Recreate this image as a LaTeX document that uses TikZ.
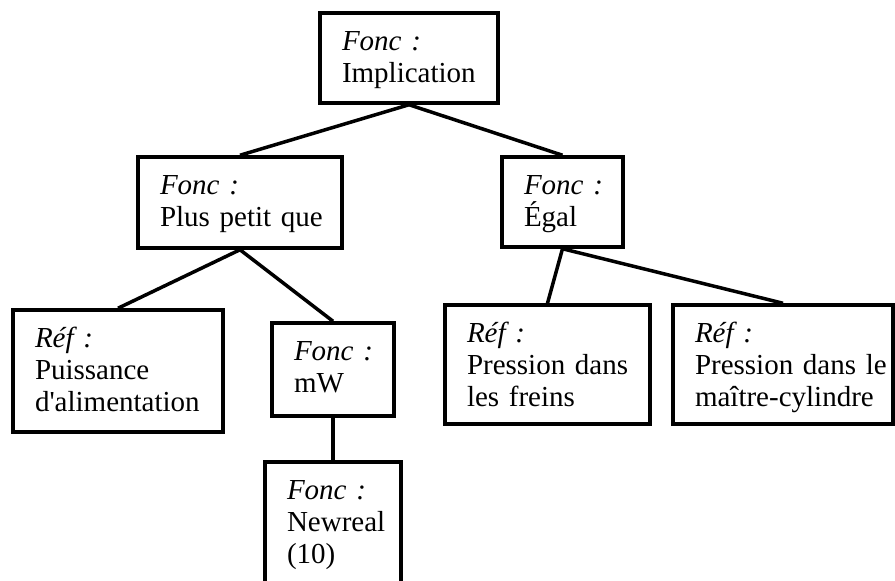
\documentclass[tikz,border=0pt]{standalone}
\usepackage{fontspec}
\setmainfont{Liberation Serif}[Ligatures=TeXOff]
\hyphenpenalty=10000
\exhyphenpenalty=10000
\hfuzz=20pt
\tikzset{
    font=\fontsize{14.5pt}{16pt}\selectfont,
    every node/.style={
        align=left,
        fill=white,
    },
    box/.style={            % default style for all boxes
        draw,
        line width=1.75pt,
        inner xsep=11pt,    % space left of the text
        inner ysep=0pt,
        text height=19pt,   % top line to first baseline
    },
    every edge/.style={     % default style for all edges
        draw,
        line width=1.75pt
    }
}

\begin{document}
\begin{tikzpicture}[x=0.5pt, y=-0.5pt]
    \useasboundingbox (0,0) rectangle (895,581);
    \clip (0,0) rectangle (895,581);
    \node[box, text width=67pt, text depth=26pt] (b0) at (409,58) {\textit{Fonc~:}\\Implication};
    \node[box, text width=80pt, text depth=26.5pt] (b1) at (240,202.5) {\textit{Fonc~:}\\Plus~petit~que};
    \node[box, text width=38.5pt, text depth=26pt] (b2) at (562.5,202) {\textit{Fonc~:}\\Égal};
    \node[box, text width=83pt, text depth=42pt] (b3) at (118,371) {\textit{Réf~:}\\Puissance\\d'alimentation};
    \node[box, text width=39pt, text depth=27.5pt] (b4) at (333,369.5) {\textit{Fonc~:}\\mW};
    \node[box, text width=80.5pt, text depth=40.5pt] (b5) at (547.5,364.5) {\textit{Réf~:}\\Pression~dans\\les~freins};
    \node[box, text width=88pt, text depth=40.5pt] (b6) at (783,364.5) {\textit{Réf~:}\\Pression~dans~le\\maître-cylindre};
    \node[box, text width=46pt, text depth=55pt] (b7) at (333,536) {\textit{Fonc~:}\\Newreal\\(10)};
    \draw (b0.south) edge (b1.north);
    \draw (b0.south) edge (b2.north);
    \draw (b1.south) edge (b3.north);
    \draw (b1.south) edge (b4.north);
    \draw (b2.south) edge (b5.north);
    \draw (b2.south) edge (b6.north);
    \draw (b4.south) edge (b7.north);
\end{tikzpicture}
\end{document}
